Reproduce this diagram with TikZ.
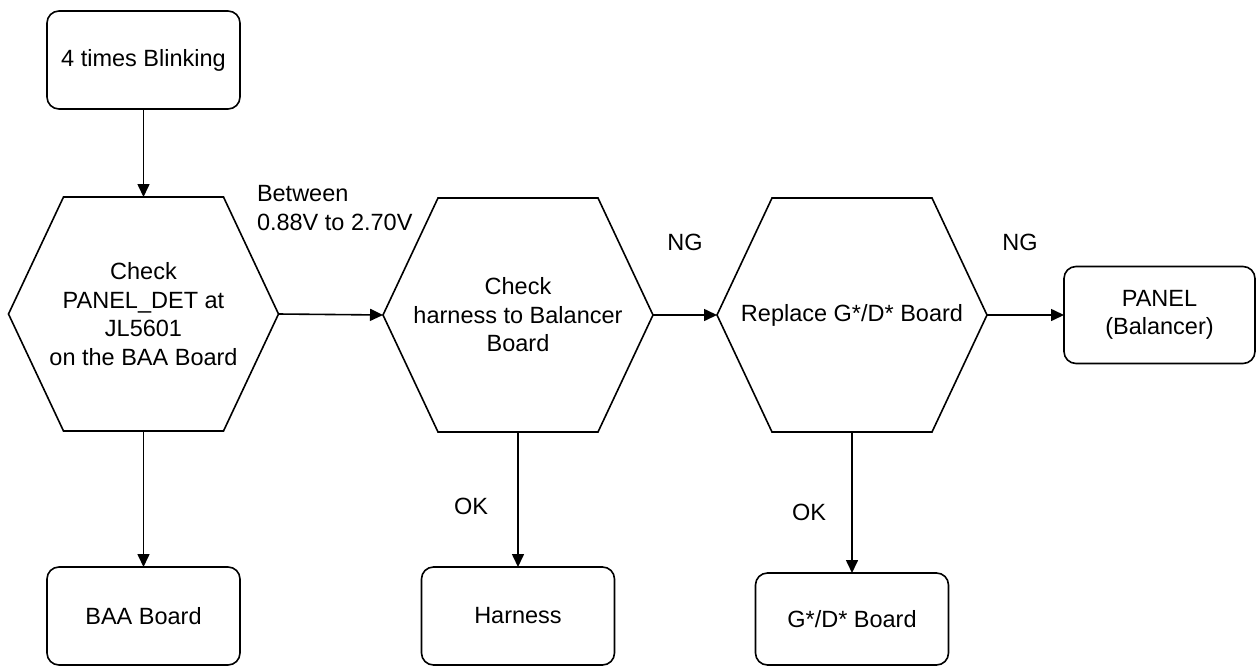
\documentclass[tikz,border=0pt]{standalone}
\usepackage{fontspec}
\setmainfont{Liberation Sans}
\usetikzlibrary{arrows.meta}
\begin{document}
\begin{tikzpicture}[x=1pt,y=-1pt,
  every node/.style={font=\fontsize{23.5}{28.5}\selectfont, inner sep=0pt, outer sep=0pt},
  endbox/.style={draw, rounded corners=12pt, line width=1.6pt, minimum width=193pt, minimum height=98pt, align=center},
  hexarea/.style={minimum width=270pt, minimum height=234pt, align=center},
  hexline/.style={line width=1.6pt, line join=miter},
  flow/.style={line width=1.6pt, -{Triangle[length=13pt,width=12pt]}},
  lbl/.style={align=left}]
\useasboundingbox (0,0) rectangle (1256,667);

% process boxes
\node[endbox] (start) at (143.5,60) {4 times Blinking};
\node[endbox] (baa) at (143.5,616) {BAA Board};
\node[endbox] (harn) at (518,616) {Harness};
\node[endbox, minimum height=92pt] (gd) at (852,619) {G*/D* Board};
\node[endbox, minimum width=191pt, minimum height=97pt] (panel) at (1159.5,315) {PANEL\\(Balancer)};

% check steps (hexagons)
\node[hexarea] (h1) at (143.5,314) {Check\\PANEL\_DET at\\JL5601\\on the BAA Board};
\node[hexarea] (h2) at (518,315) {Check\\harness to Balancer\\Board};
\node[hexarea] (h3) at (852,315) {Replace G*/D* Board};
\foreach \h in {h1,h2,h3}
  \draw[hexline] (\h.west) -- ([xshift=55pt]\h.north west) -- ([xshift=-55pt]\h.north east)
    -- (\h.east) -- ([xshift=-55pt]\h.south east) -- ([xshift=55pt]\h.south west) -- cycle;

% connectors
\draw[flow] (start.south) -- (h1.north);
\draw[flow] (h1.east) -- (h2.west);
\draw[flow] (h2.east) -- (h3.west);
\draw[flow] (h3.east) -- (panel.west);
\draw[flow] (h1.south) -- (baa.north);
\draw[flow] (h2.south) -- (harn.north);
\draw[flow] (h3.south) -- (gd.north);

% branch labels
\node[lbl, anchor=west] (between) at (257,208) {Between\\0.88V to 2.70V};
\node (ng1) at (685,242) {NG};
\node (ng2) at (1020,242) {NG};
\node (ok1) at (471,506) {OK};
\node (ok2) at (809,512) {OK};
\end{tikzpicture}
\end{document}
